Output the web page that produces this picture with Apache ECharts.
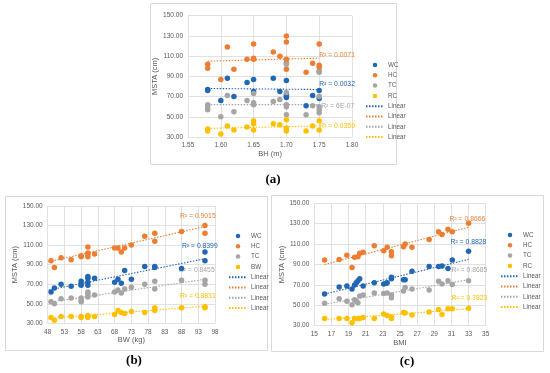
<!DOCTYPE html>
<html><head><meta charset="utf-8">
<script src="https://cdn.jsdelivr.net/npm/echarts@6/dist/echarts.min.js"></script>
<style>html,body{margin:0;padding:0;background:#fff}#c{width:550px;height:373px}</style>
</head><body><div id="c"></div>
<script>
// ---------- Panel (a): BH (m) ----------
const aWC = [[1.58,77],[1.58,76],[1.60,66],[1.61,88],[1.62,70],[1.64,84],[1.65,87],[1.65,75],[1.68,88],[1.69,75],[1.70,86],[1.70,72],[1.70,70],[1.70,69],[1.73,61],[1.74,71],[1.75,76],[1.75,68]];
const aHC = [[1.58,102],[1.58,98],[1.60,87],[1.61,119],[1.62,97],[1.64,107],[1.65,122],[1.65,108],[1.65,107],[1.68,114],[1.69,110],[1.70,130],[1.70,124],[1.70,107],[1.70,103],[1.70,97],[1.73,94],[1.74,103],[1.75,122],[1.75,101],[1.75,99],[1.75,95]];
const aTC = [[1.58,62],[1.58,60],[1.58,57],[1.60,50],[1.61,71],[1.62,55],[1.64,66],[1.65,73],[1.65,64],[1.65,62],[1.68,65],[1.69,67],[1.70,102],[1.70,74],[1.70,62],[1.70,60],[1.70,52],[1.73,52],[1.74,61],[1.75,94],[1.75,70],[1.75,60],[1.75,57],[1.75,54]];
const aRC = [[1.58,38],[1.58,36],[1.60,33],[1.61,41],[1.62,37],[1.64,40],[1.65,46],[1.65,43],[1.65,37],[1.68,43],[1.69,42],[1.70,47],[1.70,39],[1.70,37],[1.70,36],[1.73,36],[1.74,41],[1.75,46],[1.75,37]];
const aTrendWC = [[1.58,78],[1.75,77]];
const aTrendHC = [[1.58,105],[1.75,108]];
const aTrendTC = [[1.58,62],[1.75,62]];
const aTrendRC = [[1.58,38.5],[1.75,41]];
const aR2 = ['R² = 0.0032','R² = 0.0071','R² = 6E-07','R² = 0.0359'];
const aLegend = ['WC','HC','TC','RC'];

// ---------- Panel (b): BW (kg) ----------
const bWC = [[49,62],[50,66],[52,70],[55,68],[58,73],[58,70],[58,69],[60,78],[60,76],[60,72],[60,69],[62,76],[68,72],[69,75],[70,71],[71,84],[73,75],[77,88],[80,88],[80,87],[88,86],[95,103],[95,94]];
const bHC = [[49,94],[50,87],[52,97],[55,95],[58,99],[58,98],[60,108],[60,102],[60,101],[60,98],[62,101],[68,107],[69,107],[70,103],[71,107],[73,110],[77,119],[80,122],[80,114],[88,124],[95,130],[95,122]];
const bTC = [[49,52],[50,50],[52,55],[55,56],[58,56],[58,53],[58,52],[60,62],[60,60],[60,57],[62,59],[68,62],[69,64],[70,61],[71,65],[73,67],[77,70],[80,73],[80,65],[88,74],[95,74],[95,70]];
const bRC = [[49,36],[50,33],[52,37],[55,37],[58,37],[58,36],[60,38],[60,37],[60,36],[62,37],[68,39],[69,43],[70,41],[71,40],[73,42],[77,41],[80,46],[80,43],[88,46],[95,47],[95,46]];
const bTrendWC = [[48.3,64],[95,96]];
const bTrendHC = [[48.3,93],[95,129]];
const bTrendTC = [[48.3,51.5],[95,75]];
const bTrendRC = [[48.3,35],[95,47.5]];
const bR2 = ['R² = 0.8399','R² = 0.9015','R² = 0.8455','R² = 0.8831'];
const bLegend = ['WC','HC','TC','BW'];

// ---------- Panel (c): BMI ----------
const cWC = [[16.2,61],[17.9,68],[18.8,69],[19.4,66],[19.7,70],[19.9,72],[20.1,74],[20.3,76],[20.7,69],[22.0,72],[23.1,71],[23.4,71.5],[23.5,72],[24.0,76],[24.0,77.5],[25.4,75],[25.6,75],[26.4,83.5],[28.4,88],[29.5,88],[29.9,88.5],[30.6,86],[31.1,94.5],[33.0,103]];
const cHC = [[16.2,94.5],[17.9,95],[18.8,99],[19.4,87],[19.7,97],[20.1,97.5],[20.3,101],[20.7,102],[22.0,108.5],[23.1,103.5],[23.5,107],[24.0,102.5],[24.0,98.5],[25.4,107.5],[25.6,110],[26.4,107],[28.4,114.5],[29.5,122],[29.9,119.5],[30.6,124.5],[31.1,122],[33.0,130.5]];
const cTC = [[16.2,52],[17.9,56.5],[18.8,54],[19.4,50.5],[19.7,55.5],[19.9,54],[20.1,52.5],[20.3,59],[20.7,60],[22.0,62],[23.1,61.5],[23.5,62],[24.0,60],[24.0,57.5],[25.4,64],[25.6,67.5],[26.4,66],[28.4,65],[29.5,73.5],[29.9,71],[30.6,74],[31.1,70.5],[33.0,74]];
const cRC = [[16.2,37],[17.9,37],[18.8,37],[19.4,33],[19.7,37],[20.1,37],[20.3,37],[20.7,38],[22.0,37],[23.1,41.5],[23.5,40],[24.0,38.5],[24.0,37],[25.4,43],[25.6,42.5],[26.4,40.5],[28.4,43.5],[29.5,46],[29.9,41],[30.6,46.5],[31.1,46.5],[33.0,47]];
const cTrendWC = [[16.2,61],[33,95]];
const cTrendHC = [[16.2,90],[33,126.5]];
const cTrendTC = [[16.2,51],[33,75]];
const cTrendRC = [[16.2,36],[33,46.5]];
const cR2 = ['R² = 0.8828','R² = 0.8666','R² = 0.8685','R² = 0.7823'];
const cLegend = ['WC','HC','TC','RC'];

const yLabel = 'MSTA (cm)';
const xLabels = ['BH (m)','BW (kg)','BMI'];

// ---------- styling ----------
const COLORS = ['#2267B5','#ED7D31','#A5A5A5','#FFC000'];
const FONT = 'Liberation Sans';
const TXT = '#595959';
const GRIDC = '#D9D9D9';

const panels = [
  {key:'a', pts:[aWC,aHC,aTC,aRC], tr:[aTrendWC,aTrendHC,aTrendTC,aTrendRC], r2:aR2, leg:aLegend,
   grid:{left:188,top:15.7,width:164,height:121.3}, x:{min:1.55,max:1.80,interval:0.05,fmt:v=>v.toFixed(2)},
   yGap:26, xGap:9, legend:{left:360,top:57},
   off:[[0,-5],[0,-3],[2,1],[0,0]]},
  {key:'b', pts:[bWC,bHC,bTC,bRC], tr:[bTrendWC,bTrendHC,bTrendTC,bTrendRC], r2:bR2, leg:bLegend,
   grid:{left:47.7,top:206,width:167.3,height:117.3}, x:{min:48,max:98,interval:5,fmt:v=>String(Math.round(v))},
   yGap:27, xGap:10, legend:{left:223,top:228},
   off:[[-23,-13],[-25,-10],[-26,-9],[-25,-10]]},
  {key:'c', pts:[cWC,cHC,cTC,cRC], tr:[cTrendWC,cTrendHC,cTrendTC,cTrendRC], r2:cR2, leg:cLegend,
   grid:{left:314.3,top:203.3,width:171.4,height:122.4}, x:{min:15,max:35,interval:2,fmt:v=>String(Math.round(v))},
   yGap:27, xGap:10, legend:{left:495,top:227},
   off:[[-18,-17],[-19,-8.5],[-17,-10],[-17,-11]]}
];

const grids=[], xAxes=[], yAxes=[], series=[], legends=[];
panels.forEach((p,i)=>{
  grids.push(Object.assign({containLabel:false}, p.grid));
  xAxes.push({type:'value', gridIndex:i, min:p.x.min, max:p.x.max, interval:p.x.interval,
    name:xLabels[i], nameLocation:'middle', nameGap:p.xGap,
    nameTextStyle:{color:TXT,fontSize:7.5,fontFamily:FONT},
    axisLine:{show:false}, axisTick:{show:false},
    axisLabel:{color:TXT,fontSize:6.5,fontFamily:FONT,margin:5,formatter:p.x.fmt},
    splitLine:{show:true,lineStyle:{color:GRIDC,width:0.8}}});
  yAxes.push({type:'value', gridIndex:i, min:30, max:150, interval:20,
    name:yLabel, nameLocation:'middle', nameGap:p.yGap,
    nameTextStyle:{color:TXT,fontSize:7.5,fontFamily:FONT},
    axisLine:{show:false}, axisTick:{show:false},
    axisLabel:{color:TXT,fontSize:6.5,fontFamily:FONT,margin:5,formatter:v=>v.toFixed(2)},
    splitLine:{show:true,lineStyle:{color:GRIDC,width:0.8}}});
  const items=[];
  p.pts.forEach((d,k)=>{
    const nm=p.key+'|'+p.leg[k];
    items.push({name:nm});
    series.push({type:'scatter', name:nm, xAxisIndex:i, yAxisIndex:i, data:d,
      symbol:'circle', symbolSize:5.5, itemStyle:{color:COLORS[k],opacity:1}, z:3});
  });
  p.tr.forEach((d,k)=>{
    const nm=p.key+'|Linear'+k;
    items.push({name:nm, itemStyle:{opacity:0}});
    series.push({type:'line', name:nm, xAxisIndex:i, yAxisIndex:i, data:d,
      symbol:'none', silent:true, z:2,
      lineStyle:{color:COLORS[k],type:[1.5,1.5],width:1.1},
      itemStyle:{color:COLORS[k]},
      endLabel:{show:true, formatter:p.r2[k], color:COLORS[k], fontSize:6.8, fontFamily:FONT,
        distance:0, offset:p.off[k]}});
  });
  legends.push({orient:'vertical', left:p.legend.left, top:p.legend.top, data:items,
    itemWidth:18, itemHeight:4.5, itemGap:4.3, selectedMode:false,
    textStyle:{color:TXT,fontSize:6.3,fontFamily:FONT,padding:[0,0,0,-1]},
    formatter:n=>{const s=n.split('|')[1]; return s.indexOf('Linear')===0?'Linear':s;}});
});

const box = (x,y,w,h)=>({type:'rect',shape:{x,y,width:w,height:h},style:{fill:'none',stroke:'#D9D9D9',lineWidth:1},z:-10,silent:true});
const lab = (t,x,y)=>({type:'text',x,y,style:{text:t,font:'bold 13px "Liberation Serif"',fill:'#000',textAlign:'center',textVerticalAlign:'middle'},silent:true});

const chart = echarts.init(document.getElementById('c'),null,{renderer:'canvas'});
chart.setOption({
  animation:false, backgroundColor:'#fff',
  grid:grids, xAxis:xAxes, yAxis:yAxes, series, legend:legends,
  graphic:[box(150.5,3.5,246,161), box(5.5,196.5,262,154), box(271.5,195.5,272,156),
    lab('(a)',273,180), lab('(b)',134,361), lab('(c)',407,362)]
});
</script></body></html>
